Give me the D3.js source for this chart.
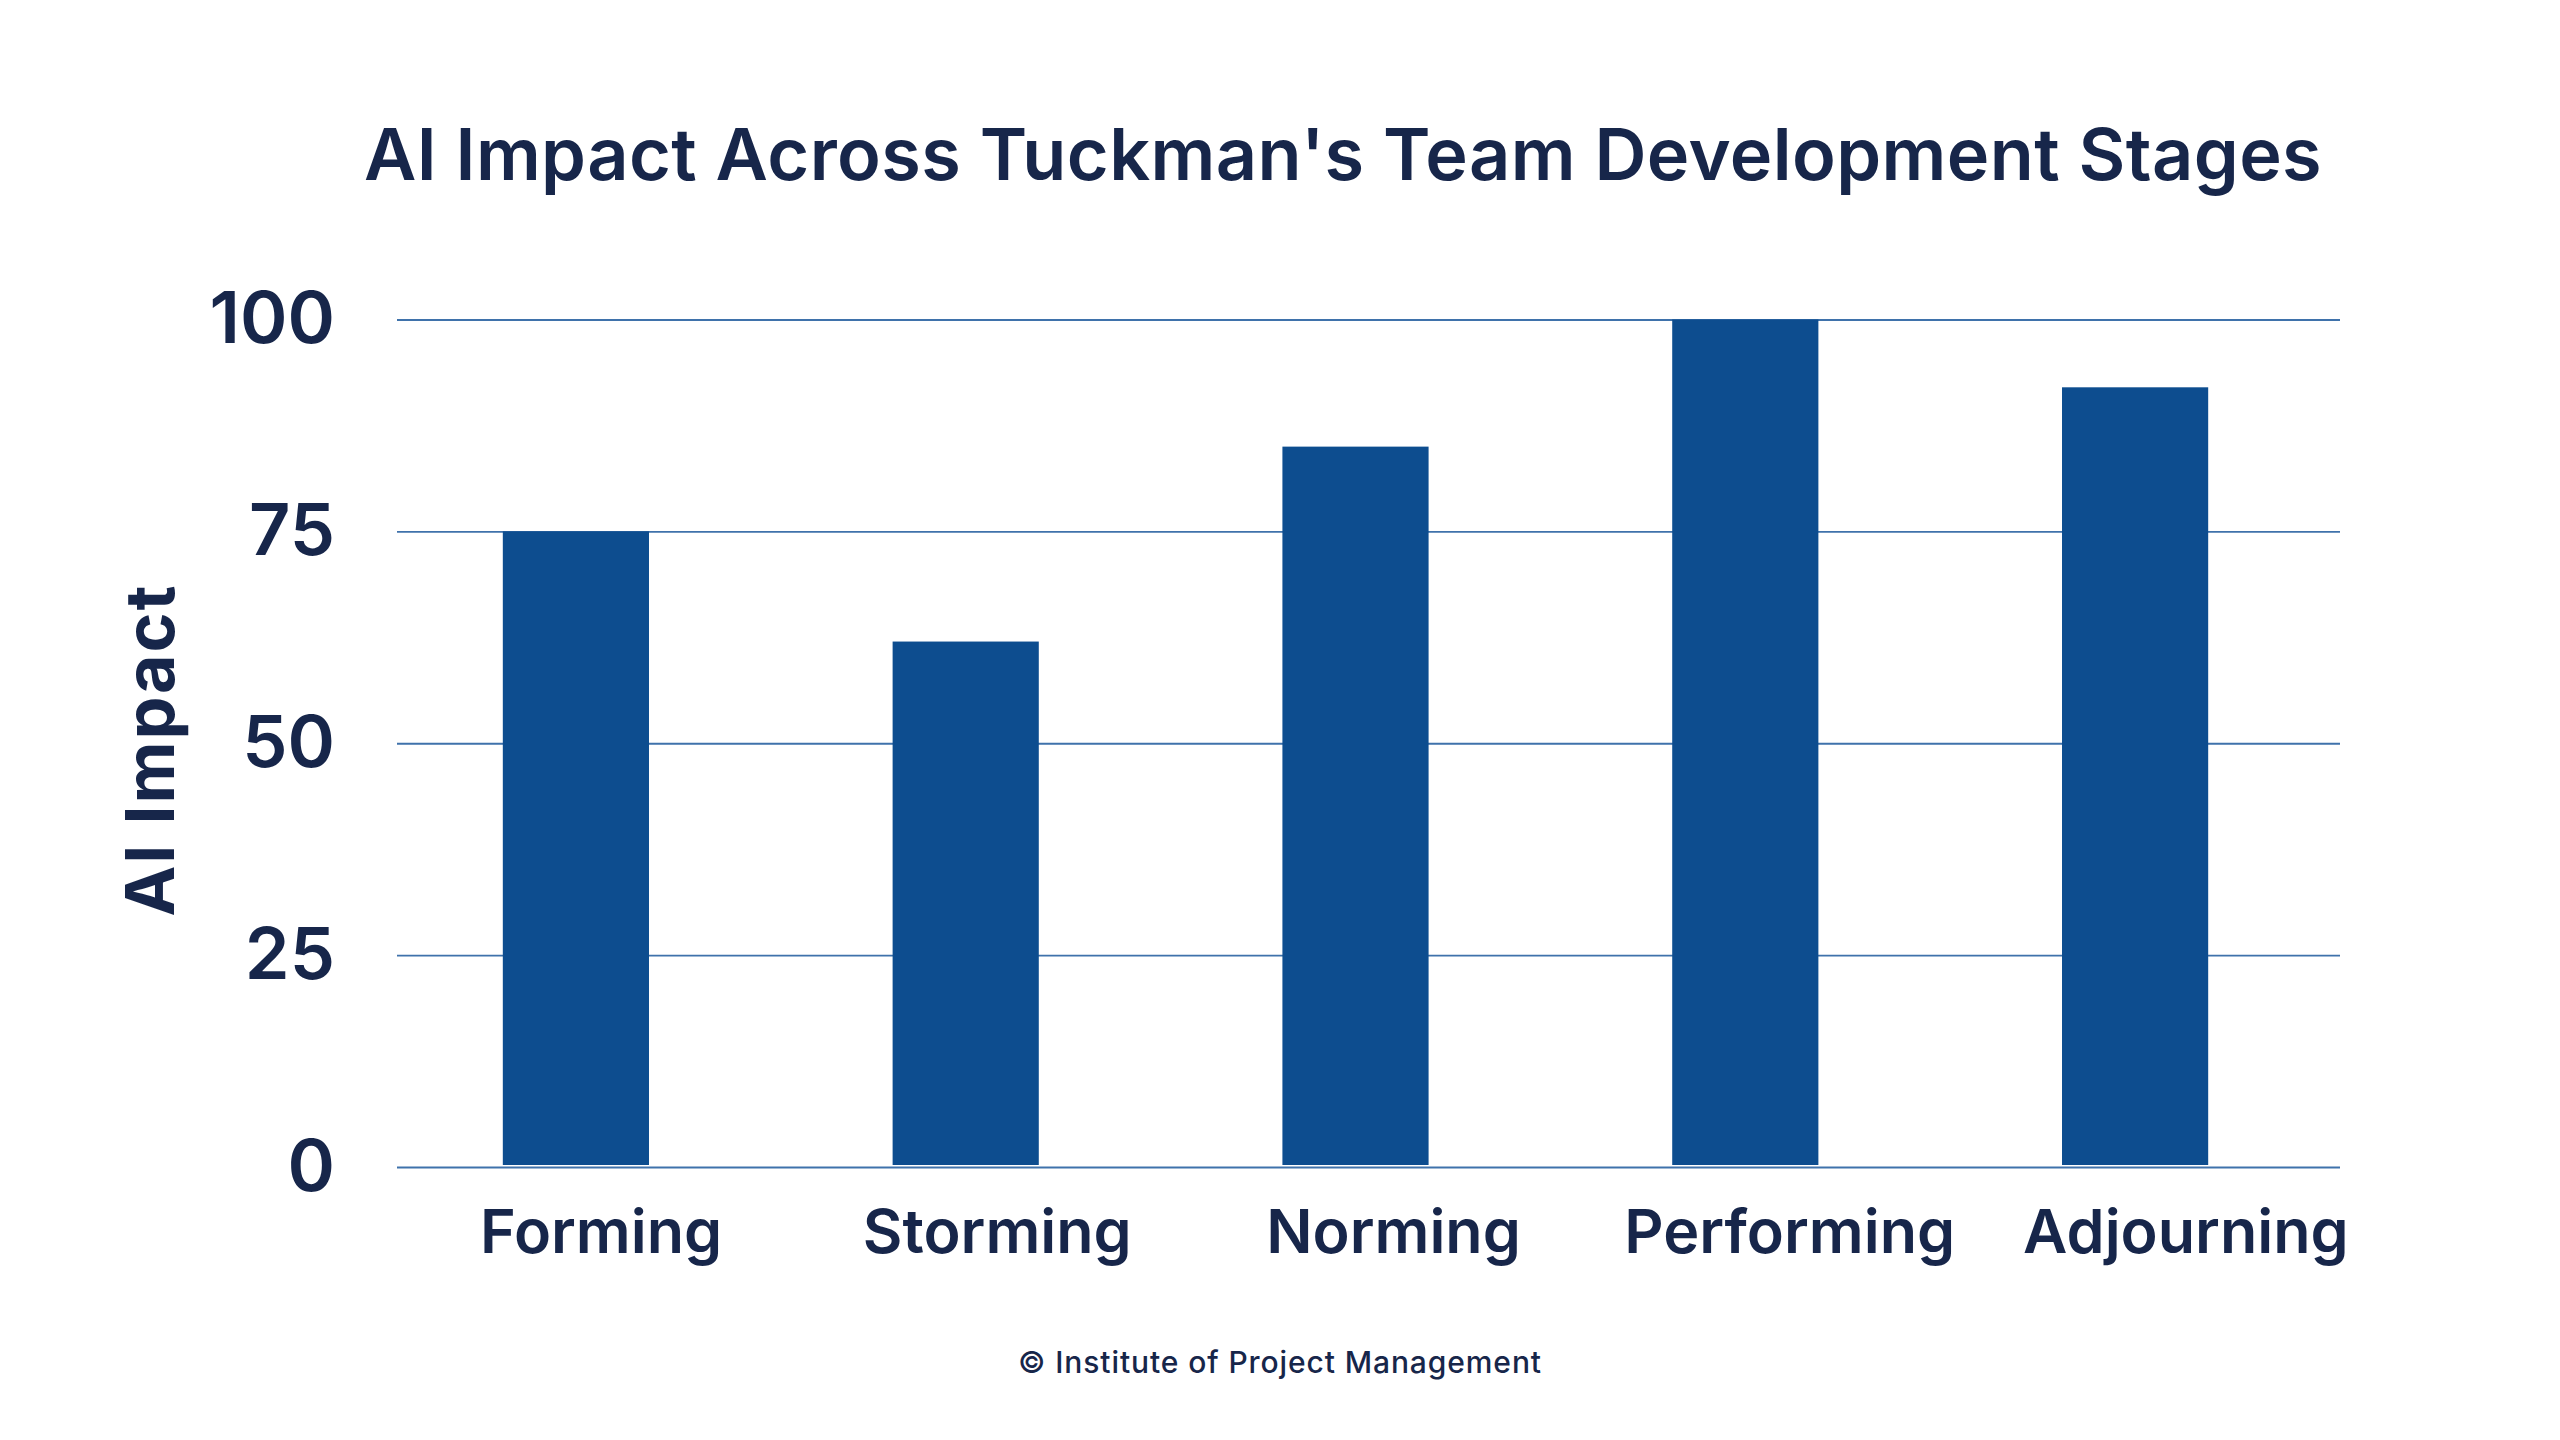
<!DOCTYPE html>
<html>
<head>
<meta charset="utf-8">
<script src="https://cdn.jsdelivr.net/npm/d3@7"></script>
<style>
  html, body { margin: 0; padding: 0; background: #ffffff; }
  svg { display: block; font-family: Inter, "Noto Sans", sans-serif; }
</style>
</head>
<body>
<svg id="chart" width="2560" height="1440"></svg>
<script>
// stages and their AI impact scores
var stages = ["Forming", "Storming", "Norming", "Performing", "Adjourning"];
var impact = [75, 62, 85, 100, 92];
var yTicks = [0, 25, 50, 75, 100];

var titleText = "AI Impact Across Tuckman's Team Development Stages";
var yTitle = "AI Impact";
var footer = "\u00A9 Institute of Project Management";

var fontStack = "Inter, 'Noto Sans', sans-serif";
var textColor = "#17264a";
var barColor = "#0d4d8f";
var gridColor = "#3f72ab";

var svg = d3.select("#chart");

var gridLeft = 397, gridRight = 2340;

var x = d3.scaleBand()
  .domain(stages)
  .range([381, 2330])
  .paddingInner(0.625)
  .paddingOuter(0.3125);

// labels sit a bit to the right of the bars in the original
var xLabel = d3.scaleBand()
  .domain(stages)
  .range([403, 2384]);

var y = d3.scaleLinear()
  .domain([0, 100])
  .range([1167, 319.5]);

// y axis with gridlines
var yAxis = svg.append("g")
  .attr("transform", "translate(" + gridLeft + ",0)")
  .call(d3.axisLeft(y)
    .tickValues(yTicks)
    .tickSize(-(gridRight - gridLeft))
    .tickPadding(62))
  .attr("font-family", fontStack);

yAxis.select(".domain").remove();
yAxis.selectAll(".tick line")
  .attr("stroke", gridColor)
  .attr("stroke-width", 1.8);
yAxis.selectAll(".tick text")
  .attr("fill", textColor)
  .style("font-size", "72px")
  .style("font-weight", 600);

// bars
svg.append("g")
  .selectAll("rect")
  .data(stages)
  .enter()
  .append("rect")
  .attr("x", function(d) { return x(d); })
  .attr("width", x.bandwidth())
  .attr("y", function(d, i) { return y(impact[i]); })
  .attr("height", function(d, i) { return y(0) - y(impact[i]) - 2; })
  .attr("fill", barColor);

// x axis labels
var xAxis = svg.append("g")
  .attr("transform", "translate(0," + y(0) + ")")
  .call(d3.axisBottom(xLabel).tickSize(0).tickPadding(43))
  .attr("font-family", fontStack);

xAxis.select(".domain").remove();
xAxis.selectAll(".tick text")
  .attr("fill", textColor)
  .style("font-size", "61px")
  .style("font-weight", 600);

// title
svg.append("text")
  .attr("x", 1343)
  .attr("y", 180)
  .attr("text-anchor", "middle")
  .attr("fill", textColor)
  .style("font-size", "72px")
  .style("font-weight", 600)
  .style("letter-spacing", "0.4px")
  .text(titleText);

// y axis title
svg.append("text")
  .attr("transform", "translate(174,750) rotate(-90)")
  .attr("text-anchor", "middle")
  .attr("fill", textColor)
  .style("font-size", "68px")
  .style("font-weight", 700)
  .style("letter-spacing", "2px")
  .text(yTitle);

// footer
svg.append("text")
  .attr("x", 1280)
  .attr("y", 1373)
  .attr("text-anchor", "middle")
  .attr("fill", textColor)
  .style("font-size", "30px")
  .style("font-weight", 500)
  .style("letter-spacing", "0.9px")
  .text(footer);
</script>
</body>
</html>
